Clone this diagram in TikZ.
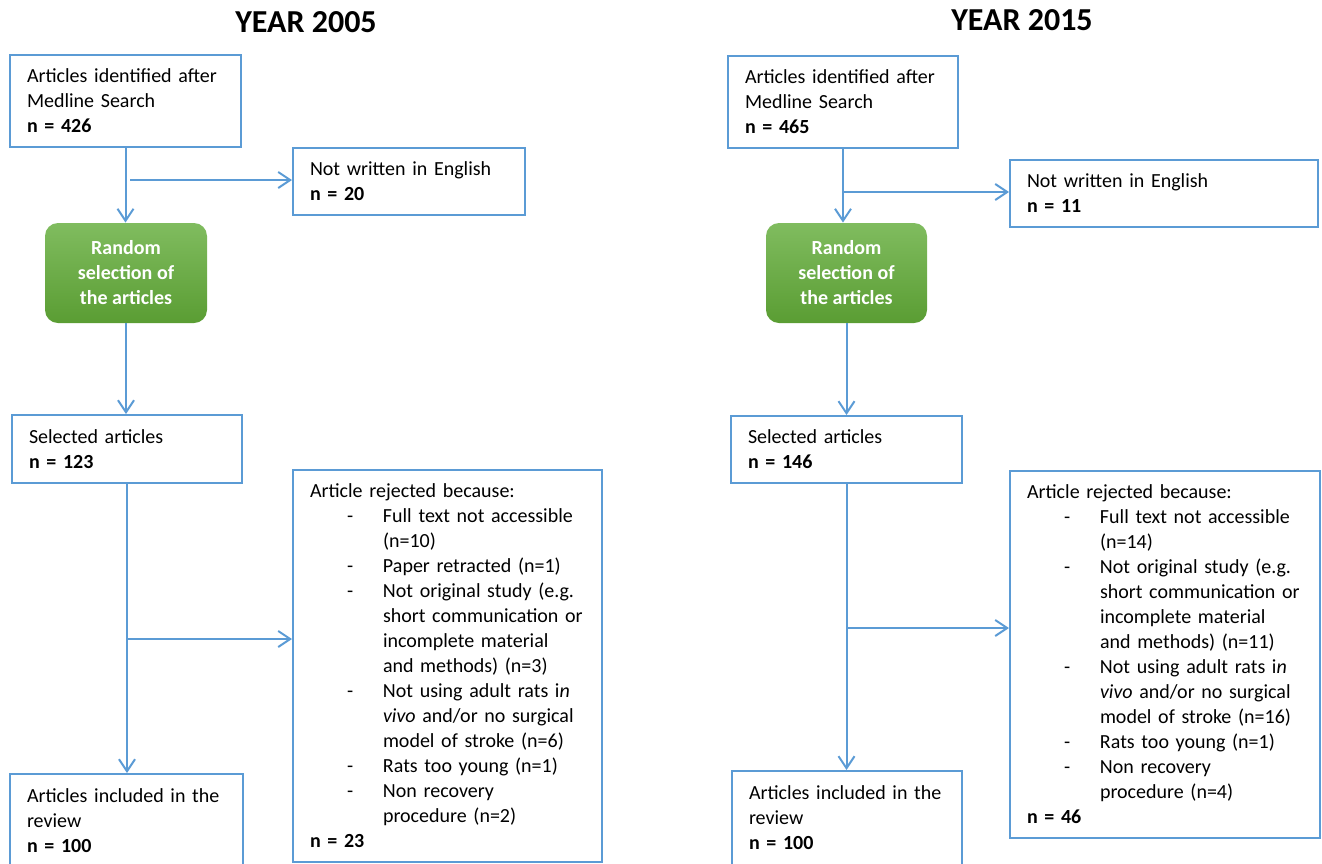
\documentclass[tikz,border=0pt]{standalone}
\usepackage{fontspec}
\setmainfont{Carlito}
\usetikzlibrary{arrows.meta}
\definecolor{lineblue}{HTML}{5B9BD5}
\definecolor{greentop}{HTML}{80BC5F}
\definecolor{greenbot}{HTML}{5A9D33}
\newcommand{\rejdash}[1]{\makebox[36.5pt][l]{\hspace*{18.5pt}-}\mbox{#1}}
\newcommand{\rejgap}[1]{\hspace*{36.5pt}\mbox{#1}}

\begin{document}
\begin{tikzpicture}[x=0.5pt,y=-0.5pt,
  box/.style={draw=lineblue,line width=1pt,align=left,inner xsep=8.5pt,inner ysep=2pt,
    font=\fontsize{10}{12.5}\selectfont},
  randbox/.style={rounded corners=6.5pt,top color=greentop,bottom color=greenbot,
    text=white,align=center,inner sep=2pt,
    minimum width=81pt,minimum height=50pt,font=\fontsize{10}{12.5}\selectfont\bfseries},
  arr/.style={draw=lineblue,line width=1pt,-{Straight Barb[length=6pt,width=8pt]}},
  yeartitle/.style={font=\fontsize{16}{19}\selectfont\bfseries}]
\useasboundingbox (0,0) rectangle (1322,863);
\clip (0,0) rectangle (1322,863);
% year 2005
\node[yeartitle] (title05) at (306,22) {YEAR 2005};
\node[box,minimum width=115.5pt,minimum height=46pt,text width=98.5pt] (id05) at (125.5,101)
  {Articles identified after\\Medline Search\\\textbf{n = 426}};
\node[box,minimum width=116pt,minimum height=33.5pt,text width=99pt] (nw05) at (409,181.5)
  {Not written in English\\\textbf{n = 20}};
\node[randbox] (rand05) at (126,273) {Random\\selection of\\the articles};
\node[box,minimum width=115pt,minimum height=34pt,text width=98pt] (sel05) at (127,449)
  {Selected articles\\\textbf{n = 123}};
\node[box,minimum width=154.5pt,minimum height=196pt,text width=137.5pt] (rej05) at (447.5,666)
  {Article rejected because:\\
   \rejdash{Full text not accessible}\\
   \rejgap{(n=10)}\\
   \rejdash{Paper retracted (n=1)}\\
   \rejdash{Not original study (e.g.}\\
   \rejgap{short communication or}\\
   \rejgap{incomplete material}\\
   \rejgap{and methods) (n=3)}\\
   \rejdash{Not using adult rats i\textit{n}}\\
   \rejgap{\textit{vivo} and/or no surgical}\\
   \rejgap{model of stroke (n=6)}\\
   \rejdash{Rats too young (n=1)}\\
   \rejdash{Non recovery}\\
   \rejgap{procedure (n=2)}\\
   \textbf{n = 23}};
\node[box,minimum width=116.5pt,minimum height=47pt,text width=99.5pt] (inc05) at (126.5,821)
  {Articles included in the\\review\\\textbf{n = 100}};
\coordinate (fork05a) at (130,180);
\coordinate (fork05b) at (127,639);
\draw[arr] (id05.south) -- (id05.south |- rand05.north);
\draw[arr] (fork05a) -- (fork05a -| nw05.west);
\draw[arr] (rand05.south) -- (rand05.south |- sel05.north);
\draw[arr] (sel05.south) -- (sel05.south |- inc05.north);
\draw[arr] (fork05b) -- (fork05b -| rej05.west);
% year 2015
\node[yeartitle] (title15) at (1022,20) {YEAR 2015};
\node[box,minimum width=115pt,minimum height=46pt,text width=98pt] (id15) at (843,102)
  {Articles identified after\\Medline Search\\\textbf{n = 465}};
\node[box,minimum width=154pt,minimum height=33.5pt,text width=137pt] (nw15) at (1164,193.5)
  {Not written in English\\\textbf{n = 11}};
\node[randbox,minimum width=80.5pt] (rand15) at (846.5,273) {Random\\selection of\\the articles};
\node[box,minimum width=115.5pt,minimum height=33.5pt,text width=98.5pt] (sel15) at (846.5,449.5)
  {Selected articles\\\textbf{n = 146}};
\node[box,minimum width=155pt,minimum height=183.5pt,text width=138pt] (rej15) at (1165,654.5)
  {Article rejected because:\\
   \rejdash{Full text not accessible}\\
   \rejgap{(n=14)}\\
   \rejdash{Not original study (e.g.}\\
   \rejgap{short communication or}\\
   \rejgap{incomplete material}\\
   \rejgap{and methods) (n=11)}\\
   \rejdash{Not using adult rats i\textit{n}}\\
   \rejgap{\textit{vivo} and/or no surgical}\\
   \rejgap{model of stroke (n=16)}\\
   \rejdash{Rats too young (n=1)}\\
   \rejdash{Non recovery}\\
   \rejgap{procedure (n=4)}\\
   \textbf{n = 46}};
\node[box,minimum width=115pt,minimum height=47pt,text width=98pt] (inc15) at (847,818)
  {Articles included in the\\review\\\textbf{n = 100}};
\coordinate (fork15a) at (843,192);
\coordinate (fork15b) at (848,628);
\draw[arr] (id15.south) -- (id15.south |- rand15.north);
\draw[arr] (fork15a) -- (fork15a -| nw15.west);
\draw[arr] (rand15.south) -- (rand15.south |- sel15.north);
\draw[arr] (sel15.south) -- (sel15.south |- inc15.north);
\draw[arr] (fork15b) -- (fork15b -| rej15.west);
\end{tikzpicture}
\end{document}
